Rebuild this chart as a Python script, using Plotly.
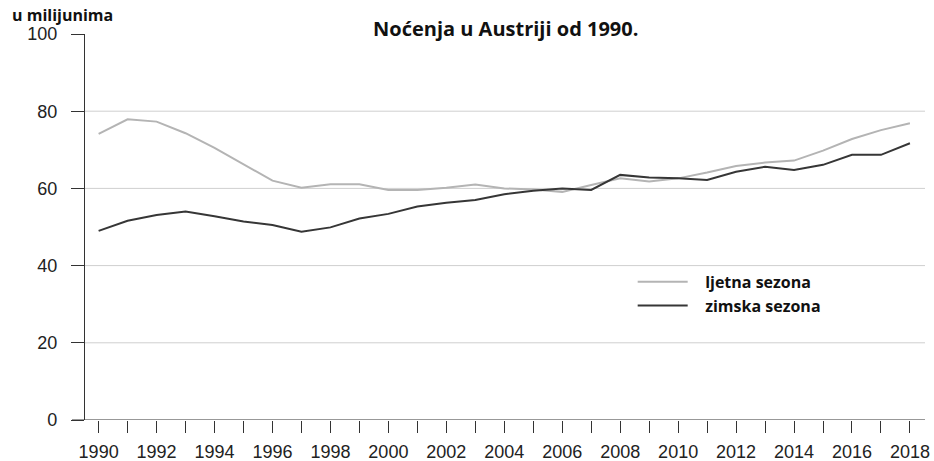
import plotly.graph_objects as go

years = list(range(1990, 2019))
summer = [74.1, 77.9, 77.3, 74.3, 70.5, 66.3, 62.0, 60.2, 61.1, 61.1, 59.6, 59.6, 60.2, 61.0, 60.0,
          59.7, 59.1, 60.9, 62.6, 61.8, 62.6, 64.1, 65.8, 66.7, 67.2, 69.8, 72.8, 75.1, 76.9]
winter = [49.0, 51.6, 53.1, 54.0, 52.8, 51.4, 50.5, 48.8, 49.9, 52.2, 53.4, 55.3, 56.3, 57.0, 58.5,
          59.4, 60.0, 59.6, 63.5, 62.8, 62.6, 62.2, 64.3, 65.6, 64.8, 66.1, 68.7, 68.7, 71.7]
series_names = ["ljetna sezona", "zimska sezona"]
x_ticks = list(range(1990, 2019, 2))
y_ticks = [0, 20, 40, 60, 80, 100]

pad = "\u00a0\u00a0\u00a0"
fig = go.Figure()
fig.add_trace(go.Scatter(x=years, y=summer, mode="lines", name=pad + series_names[0],
                         line=dict(color="#b4b4b4", width=2)))
fig.add_trace(go.Scatter(x=years, y=winter, mode="lines", name=pad + series_names[1],
                         line=dict(color="#363636", width=2)))

for v in [20, 40, 60, 80]:
    fig.add_shape(type="line", xref="paper", yref="y", x0=0, x1=1, y0=v, y1=v,
                  line=dict(color="#cfcfcf", width=1), layer="below")
# extended zero line
fig.add_shape(type="line", xref="paper", yref="y", x0=-0.0155, x1=1, y0=0, y1=0,
              line=dict(color="#333333", width=1.2))

fig.update_layout(
    width=934, height=461,
    margin=dict(l=85, r=9, t=34, b=41),
    paper_bgcolor="white", plot_bgcolor="white",
    font=dict(family="Liberation Sans, Arial, sans-serif", size=18, color="#222222"),
    showlegend=True,
    legend=dict(x=0.652, y=0.402, xanchor="left", yanchor="top",
                font=dict(family="Open Sans, sans-serif", size=16, color="#111111", weight="bold"),
                bgcolor="rgba(0,0,0,0)", tracegroupgap=0, itemwidth=50),
    annotations=[
        dict(text="<b>Noćenja u Austriji od 1990.</b>", xref="paper", yref="paper",
             x=0.5, y=1.013, xanchor="center", yanchor="middle",
             showarrow=False, font=dict(family="Open Sans, sans-serif", size=20, color="#111111")),
        dict(text="<b>u milijunima</b>", xref="paper", yref="paper",
             x=0, y=1.049, xanchor="left", yanchor="middle", xshift=-75,
             showarrow=False, font=dict(family="Open Sans, sans-serif", size=16, color="#111111")),
    ],
)
fig.update_xaxes(range=[1989.53, 2018.52], tickmode="array", tickvals=x_ticks,
                 ticktext=[str(t) for t in x_ticks], ticks="outside", ticklen=12,
                 tickcolor="#333333", showgrid=False, showline=False, zeroline=False,
                 minor=dict(ticks="outside", ticklen=12, tickcolor="#333333", dtick=1, tick0=1991),
                 ticklabelstandoff=3, automargin=False)
fig.update_yaxes(range=[0, 100], tickmode="array", tickvals=y_ticks, ticks="outside", ticklen=13,
                 tickcolor="#333333", showgrid=False, showline=True, linecolor="#333333",
                 linewidth=1.2, zeroline=False, ticklabelstandoff=10, automargin=False)

fig.write_html("out.html", config={"displayModeBar": False})

# remove the browser's default page margin so the figure sits at the window's corner
with open("out.html", "r", encoding="utf-8") as f:
    html = f.read()
html = html.replace("<head>", "<head><style>html,body{margin:0;padding:0;overflow:hidden;}</style>", 1)
with open("out.html", "w", encoding="utf-8") as f:
    f.write(html)
